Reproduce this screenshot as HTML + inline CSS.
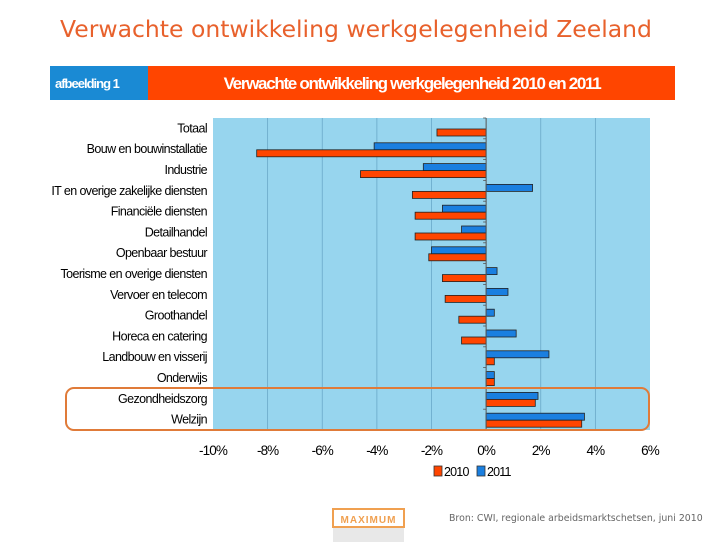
<!DOCTYPE html>
<html><head><meta charset="utf-8"><style>
body{margin:0;background:#fff;width:728px;height:546px;overflow:hidden;font-family:"Liberation Sans",sans-serif}
</style></head><body>
<svg width="728" height="546" xmlns="http://www.w3.org/2000/svg">
<text x="60" y="37" font-family="DejaVu Sans,sans-serif" font-size="23.5" fill="#e8612c">Verwachte ontwikkeling werkgelegenheid Zeeland</text>
<rect x="50" y="66" width="98" height="34" fill="#1a8ad4"/>
<rect x="148" y="66" width="527" height="34" fill="#ff4500"/>
<text x="55" y="88" font-size="13" font-weight="bold" fill="#fff" letter-spacing="-1">afbeelding 1</text>
<text x="412" y="89" text-anchor="middle" font-size="17" font-weight="bold" fill="#fff" letter-spacing="-1.3">Verwachte ontwikkeling werkgelegenheid 2010 en 2011</text>
<g id="plot"></g>
<rect x="66" y="388" width="583" height="42" rx="8" fill="none" stroke="#e07b39" stroke-width="2"/>
<rect x="434" y="466" width="8" height="10" fill="#ff4500" stroke="#333" stroke-width="0.8"/>
<text x="444" y="476" font-size="12.5" letter-spacing="-0.8">2010</text>
<rect x="477" y="466" width="8" height="10" fill="#1a7fe0" stroke="#333" stroke-width="0.8"/>
<text x="487" y="476" font-size="12.5" letter-spacing="-0.8">2011</text>
<rect x="333" y="509" width="71" height="18" fill="#fff" stroke="#f0a050" stroke-width="2"/>
<rect x="333" y="528" width="71" height="14" fill="#e8e8e8"/>
<text x="368.5" y="523" text-anchor="middle" font-size="10" font-weight="bold" fill="#f0a050" letter-spacing="1">MAXIMUM</text>
<text x="449" y="521" font-family="DejaVu Sans,sans-serif" font-size="9.4" fill="#666">Bron: CWI, regionale arbeidsmarktschetsen, juni 2010</text>
</svg>
<script>
const categories=["Totaal","Bouw en bouwinstallatie","Industrie","IT en overige zakelijke diensten","Financiële diensten","Detailhandel","Openbaar bestuur","Toerisme en overige diensten","Vervoer en telecom","Groothandel","Horeca en catering","Landbouw en visserij","Onderwijs","Gezondheidszorg","Welzijn"];
const values2010=[-1.8,-8.4,-4.6,-2.7,-2.6,-2.6,-2.1,-1.6,-1.5,-1.0,-0.9,0.3,0.3,1.8,3.5];
const values2011=[null,-4.1,-2.3,1.7,-1.6,-0.9,-2.0,0.4,0.8,0.3,1.1,2.3,0.3,1.9,3.6];
const tickValues=[-10,-8,-6,-4,-2,0,2,4,6];
const tickLabels=["-10%","-8%","-6%","-4%","-2%","0%","2%","4%","6%"];
const NS="http://www.w3.org/2000/svg";
const L=213,R=650,T=118,B=430,xmin=-10,xmax=6;
const x=v=>L+(v-xmin)/(xmax-xmin)*(R-L);
const rowH=(B-T)/categories.length;
const g=document.getElementById('plot');
function mk(tag,attrs){const e=document.createElementNS(NS,tag);for(const k in attrs)e.setAttribute(k,attrs[k]);g.appendChild(e);return e;}
const bg=mk('rect',{x:L,y:T,width:R-L,height:B-T,fill:'#97d5ee'});


tickValues.forEach((v,i)=>{
  if(v!==0&&v!==xmin&&v!==xmax){const gl=mk('line',{x1:x(v),x2:x(v),y1:T,y2:B,stroke:'#6aa8c8','stroke-width':0.8});
  
  }
  const t=mk('text',{x:x(v),y:455,'text-anchor':'middle','font-size':13.5,'letter-spacing':-0.9});
  t.textContent=tickLabels[i];
  
  
});
categories.forEach((c,i)=>{
  const top=T+i*rowH;
  const lb=mk('text',{x:207,y:top+rowH/2+4,'text-anchor':'end','font-size':12.5,'letter-spacing':-0.6});
  lb.textContent=c;
  
  
  if(values2011[i]!==null){const v=values2011[i];
    const b=mk('rect',{x:Math.min(x(0),x(v)),y:top+4,width:Math.abs(x(v)-x(0)),height:7,fill:'#1a7fe0',stroke:'#222','stroke-width':0.8});
    
    }
  const v=values2010[i];
  const b2=mk('rect',{x:Math.min(x(0),x(v)),y:top+11,width:Math.abs(x(v)-x(0)),height:7,fill:'#ff4500',stroke:'#222','stroke-width':0.8});
  
  
  const tk=mk('line',{x1:x(0)-3,x2:x(0),y1:top,y2:top,stroke:'#555','stroke-width':0.8});
  
  
});
const ax=mk('line',{x1:x(0),x2:x(0),y1:T,y2:B,stroke:'#555','stroke-width':1});


</script>
</body></html>
